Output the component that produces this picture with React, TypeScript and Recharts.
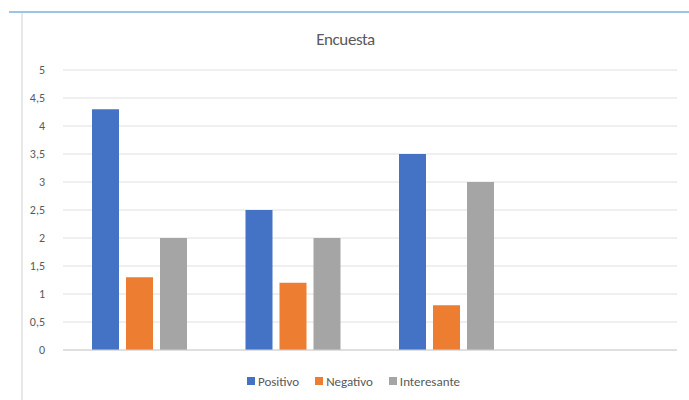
import { BarChart, Bar, XAxis, YAxis, CartesianGrid, Legend } from 'recharts'

// categorías sin etiqueta en el original; la cuarta está vacía
const categories = ['c1', 'c2', 'c3', 'c4']
const positivo = [4.3, 2.5, 3.5, null]
const negativo = [1.3, 1.2, 0.8, null]
const interesante = [2, 2, 3, null]
const yTicks = [0, 0.5, 1, 1.5, 2, 2.5, 3, 3.5, 4, 4.5, 5]

const series = [
  { key: 'Positivo', color: '#4472c4' },
  { key: 'Negativo', color: '#ed7d31' },
  { key: 'Interesante', color: '#a5a5a5' },
]

const data = categories.map((name, i) => ({
  name,
  Positivo: positivo[i],
  Negativo: negativo[i],
  Interesante: interesante[i],
}))

const FONT = 'Calibri, Carlito, "Open Sans", "Noto Sans", sans-serif'
const TEXT = '#595959'

const formatTick = (v: number) => String(v).replace('.', ',')

// leyenda en el orden de las series (recharts ordena por nombre por defecto)
const renderLegend = () => (
  <div style={{ display: 'flex', justifyContent: 'center', height: 16, alignItems: 'center', paddingLeft: 34, fontSize: 13, color: TEXT }}>
    {series.map((s) => (
      <span key={s.key} style={{ display: 'flex', alignItems: 'center', marginRight: 16 }}>
        <span style={{ width: 8, height: 8, background: s.color, marginRight: 3, display: 'inline-block' }} />
        {s.key}
      </span>
    ))}
  </div>
)

export default function App() {
  return (
    <div style={{ position: 'absolute', left: 0, top: 0, width: 689, height: 400, background: '#fff', fontFamily: FONT }}>
      {/* marco de la ventana */}
      <div style={{ position: 'absolute', left: 9, top: 11, width: 680, height: 2, background: '#9dc3e6' }} />
      <div style={{ position: 'absolute', left: 21, top: 13, width: 2, height: 387, background: '#e8e8e8' }} />
      <div style={{ position: 'absolute', left: 0, top: 29, width: 689, textAlign: 'center', fontSize: 17, letterSpacing: -0.4, color: TEXT, paddingLeft: 1 }}>
        Encuesta
      </div>
      <BarChart
        width={689}
        height={400}
        data={data}
        margin={{ top: 70, right: 12, left: 13, bottom: 29 }}
        barSize={27}
        barGap={7}
        style={{ position: 'absolute', left: 0, top: 0 }}
      >
        <CartesianGrid vertical={false} stroke="#e0e0e0" />
        <XAxis dataKey="name" tick={false} tickLine={false} axisLine={{ stroke: '#d0d0d0' }} height={5} />
        <YAxis
          width={50}
          domain={[0, 5]}
          ticks={yTicks}
          tickFormatter={formatTick}
          axisLine={false}
          tickLine={false}
          tickMargin={12}
          tick={{ fontSize: 12, fill: TEXT, fontFamily: FONT }}
        />
        <Legend
          verticalAlign="bottom"
          content={renderLegend}
          wrapperStyle={{ left: 0, width: 689, bottom: 11, fontFamily: FONT }}
        />
        {series.map((s) => (
          <Bar key={s.key} dataKey={s.key} fill={s.color} isAnimationActive={false} />
        ))}
      </BarChart>
    </div>
  )
}
